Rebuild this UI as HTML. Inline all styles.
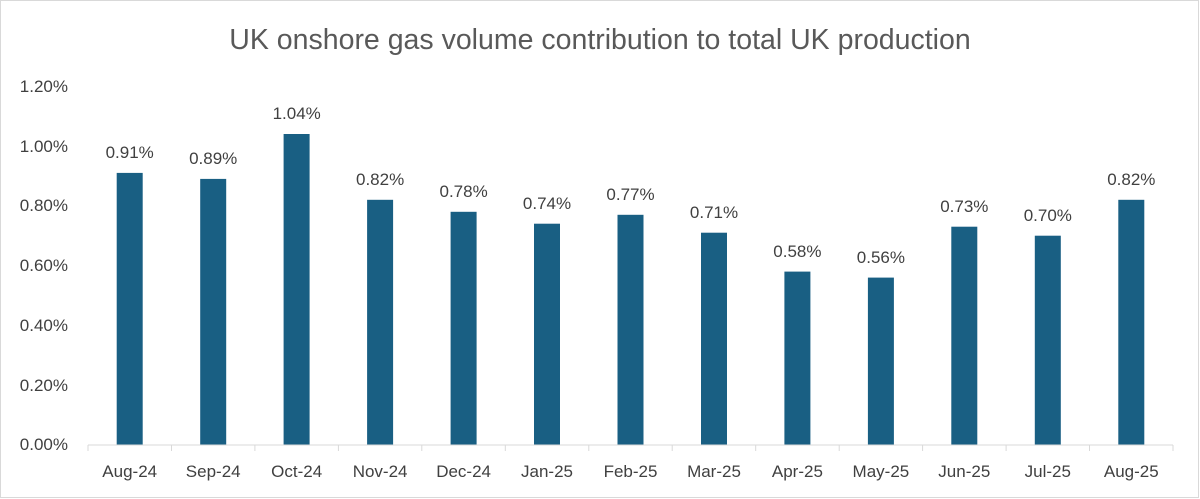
<!DOCTYPE html>
<html><head><style>body{margin:0;background:#fff}svg{display:block}text{font-family:"Liberation Sans",sans-serif;fill:#404040}</style></head><body>
<svg width="1200" height="499" viewBox="0 0 1200 499">
<rect x="0.5" y="0.5" width="1198" height="497" fill="#fff" stroke="#d9d9d9"/>
<text x="600" y="49" text-anchor="middle" font-size="28.5" style="fill:#595959">UK onshore gas volume contribution to total UK production</text>
<g font-size="17" text-anchor="end" style="fill:#595959">
<text x="68" y="92">1.20%</text><text x="68" y="152">1.00%</text><text x="68" y="211">0.80%</text><text x="68" y="271">0.60%</text><text x="68" y="331">0.40%</text><text x="68" y="391">0.20%</text><text x="68" y="450">0.00%</text>
</g>
<g fill="#195f83">
<rect x="116.7" y="172.9" width="26" height="272.1"/>
<rect x="200.2" y="178.9" width="26" height="266.1"/>
<rect x="283.6" y="134.0" width="26" height="311"/>
<rect x="367.1" y="199.8" width="26" height="245.2"/>
<rect x="450.6" y="211.8" width="26" height="233.2"/>
<rect x="534.0" y="223.7" width="26" height="221.3"/>
<rect x="617.5" y="214.8" width="26" height="230.2"/>
<rect x="701.0" y="232.7" width="26" height="212.3"/>
<rect x="784.4" y="271.6" width="26" height="173.4"/>
<rect x="867.9" y="277.6" width="26" height="167.4"/>
<rect x="951.3" y="226.7" width="26" height="218.3"/>
<rect x="1034.8" y="235.7" width="26" height="209.3"/>
<rect x="1118.3" y="199.8" width="26" height="245.2"/>
</g>
<g font-size="17" text-anchor="middle">
<text x="129.7" y="158">0.91%</text>
<text x="213.2" y="164">0.89%</text>
<text x="296.7" y="119">1.04%</text>
<text x="380.1" y="185">0.82%</text>
<text x="463.6" y="197">0.78%</text>
<text x="547.0" y="209">0.74%</text>
<text x="630.5" y="200">0.77%</text>
<text x="714.0" y="218">0.71%</text>
<text x="797.4" y="257">0.58%</text>
<text x="880.9" y="263">0.56%</text>
<text x="964.3" y="212">0.73%</text>
<text x="1047.8" y="221">0.70%</text>
<text x="1131.3" y="185">0.82%</text>
</g>
<g font-size="17" text-anchor="middle" style="fill:#595959">
<text x="129.7" y="477">Aug-24</text>
<text x="213.2" y="477">Sep-24</text>
<text x="296.7" y="477">Oct-24</text>
<text x="380.1" y="477">Nov-24</text>
<text x="463.6" y="477">Dec-24</text>
<text x="547.0" y="477">Jan-25</text>
<text x="630.5" y="477">Feb-25</text>
<text x="714.0" y="477">Mar-25</text>
<text x="797.4" y="477">Apr-25</text>
<text x="880.9" y="477">May-25</text>
<text x="964.3" y="477">Jun-25</text>
<text x="1047.8" y="477">Jul-25</text>
<text x="1131.3" y="477">Aug-25</text>
</g>
<g stroke="#d9d9d9">
<line x1="88" y1="445" x2="1173" y2="445"/>
<line x1="88" y1="445" x2="88" y2="451"/><line x1="171.5" y1="445" x2="171.5" y2="451"/><line x1="254.9" y1="445" x2="254.9" y2="451"/><line x1="338.4" y1="445" x2="338.4" y2="451"/><line x1="421.8" y1="445" x2="421.8" y2="451"/><line x1="505.3" y1="445" x2="505.3" y2="451"/><line x1="588.8" y1="445" x2="588.8" y2="451"/><line x1="672.2" y1="445" x2="672.2" y2="451"/><line x1="755.7" y1="445" x2="755.7" y2="451"/><line x1="839.2" y1="445" x2="839.2" y2="451"/><line x1="922.6" y1="445" x2="922.6" y2="451"/><line x1="1006.1" y1="445" x2="1006.1" y2="451"/><line x1="1089.5" y1="445" x2="1089.5" y2="451"/><line x1="1173" y1="445" x2="1173" y2="451"/>
</g>
</svg>
</body></html>
